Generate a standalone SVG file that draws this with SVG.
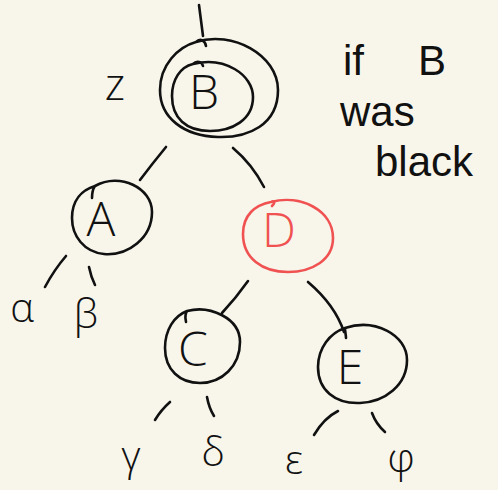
<svg xmlns="http://www.w3.org/2000/svg" width="498" height="490" viewBox="0 0 498 490">
  <style>
    .ink { fill: none; stroke: #111; stroke-width: 2.6; stroke-linecap: round; stroke-linejoin: round; }
    .red { fill: none; stroke: #f05252; stroke-width: 2.6; stroke-linecap: round; stroke-linejoin: round; }
    .lbl { font-family: "Open Sans", "Liberation Sans", sans-serif; font-weight: 300; fill: #111; }
    .big { font-size: 48px; text-anchor: middle; }
    .greek { font-size: 40px; text-anchor: middle; }
    .note { font-family: "Liberation Sans", Arial, sans-serif; font-size: 42px; fill: #111; }
  </style>
  <rect width="498" height="490" fill="#f8f6eb"/>

  <!-- tree edges -->
  <g id="connectors">
    <path class="ink" d="M199 5 L203 36"/>
    <path class="ink" d="M166 147 Q152 164 140 180"/>
    <path class="ink" d="M233 148 Q252 164 264 187"/>
    <path class="ink" d="M66 256 Q54 270 45 287"/>
    <path class="ink" d="M89 267 Q91 277 95 285"/>
    <path class="ink" d="M248 281 Q236 298 222 313"/>
    <path class="ink" d="M308 282 Q335 305 344 332"/>
    <path class="ink" d="M170 402 Q161 410 155 420"/>
    <path class="ink" d="M207 397 Q209 408 214 416"/>
    <path class="ink" d="M338 411 Q324 418 314 435"/>
    <path class="ink" d="M372 413 Q376 424 385 432"/>
  </g>

  <!-- root B, double ring -->
  <g id="node-B">
    <path class="ink" d="M196 42 C232 30 278 55 278 90 C278 125 248 138 218 137 C184 136 160 118 160 90 C160 65 178 47 196 42 C200 38 205 40 206 46"/>
    <path class="ink" d="M193 64 C225 56 253 75 253 97 C253 120 232 131 210 131 C186 131 172 118 172 96 C172 80 180 67 193 64 C197 60 202 62 203 66"/>
    <text class="lbl big" x="204" y="109">B</text>
  </g>

  <g id="label-z">
    <text class="lbl" x="115" y="100" font-size="44" text-anchor="middle">z</text>
  </g>

  <g id="note">
    <text class="note" y="75"><tspan x="343">if</tspan><tspan x="418">B</tspan></text>
    <text class="note" x="340" y="126">was</text>
    <text class="note" x="375" y="176">black</text>
  </g>

  <g id="node-A">
    <path class="ink" d="M95 186 C120 172 152 188 152 212 C152 238 128 256 104 254 C84 252 72 236 72 218 C72 200 82 190 95 186 C92 190 92 195 92 198"/>
    <text class="lbl big" x="101" y="236">A</text>
  </g>

  <g id="node-D">
    <path class="red" d="M271 202 C300 194 333 210 333 238 C333 260 312 272 288 272 C262 272 243 258 243 234 C243 215 255 205 271 202 C274 200 276 202 272 206"/>
    <text class="lbl big" x="279" y="247" style="fill:#f05252">D</text>
  </g>

  <g id="node-C">
    <path class="ink" d="M187 311 C210 305 240 318 240 342 C240 366 222 383 200 383 C180 383 165 370 165 348 C165 330 174 316 187 311 C184 316 186 320 186 322"/>
    <text class="lbl big" x="193" y="366">C</text>
  </g>

  <g id="node-E">
    <path class="ink" d="M345 328 C375 318 407 335 407 360 C407 385 385 402 360 403 C335 404 318 390 318 367 C318 348 330 333 345 328 C345 332 346 335 346 338"/>
    <text class="lbl big" x="350" y="384">E</text>
  </g>

  <g id="leaves">
    <text class="lbl greek" x="22" y="322">α</text>
    <text class="lbl greek" x="86" y="328">β</text>
    <text class="lbl greek" x="131" y="470">γ</text>
    <text class="lbl greek" x="213" y="466">δ</text>
    <text class="lbl greek" x="294" y="474">ε</text>
    <text class="lbl greek" x="401" y="472">φ</text>
  </g>
</svg>
